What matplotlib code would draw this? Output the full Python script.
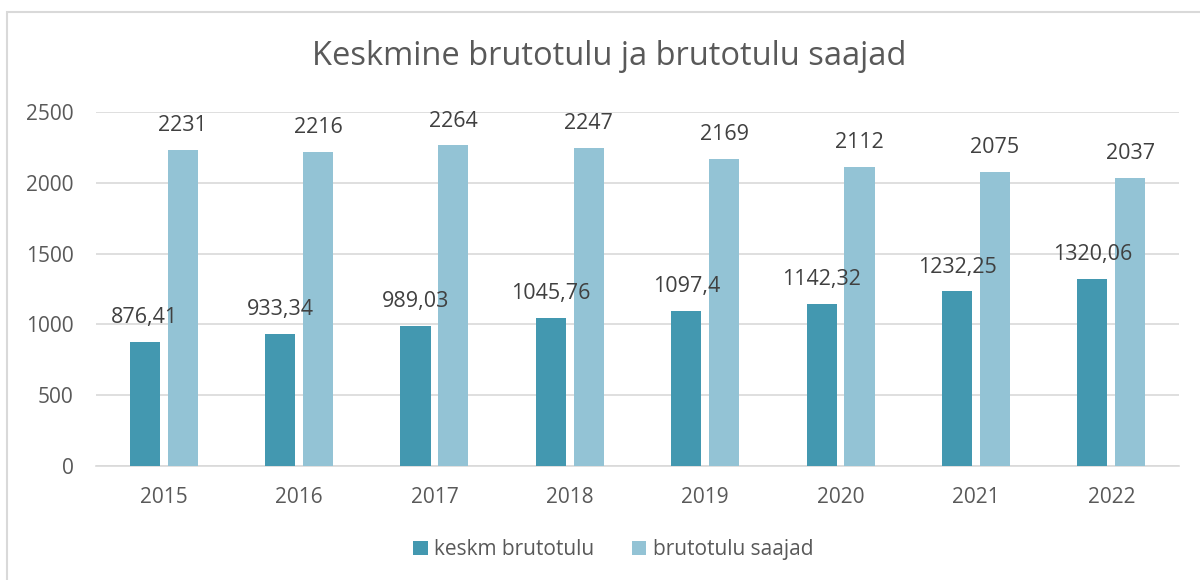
import matplotlib.pyplot as plt
import matplotlib.patches as mpatches
import numpy as np

years = ["2015", "2016", "2017", "2018", "2019", "2020", "2021", "2022"]
keskm_brutotulu = [876.41, 933.34, 989.03, 1045.76, 1097.4, 1142.32, 1232.25, 1320.06]
brutotulu_saajad = [2231, 2216, 2264, 2247, 2169, 2112, 2075, 2037]

dark = "#4398B0"
light = "#93C3D5"
grid_col = "#D9D9D9"
text_col = "#595959"
label_col = "#404040"

plt.rcParams["font.family"] = ["Open Sans", "DejaVu Sans"]

fig = plt.figure(figsize=(12, 5.8), dpi=100)
ax = fig.add_axes([0.08, 0.1966, 0.9025, 0.6103])

x = np.arange(len(years))
w = 0.222
off = 0.14
b1 = ax.bar(x - off, keskm_brutotulu, w, color=dark, label="keskm brutotulu", zorder=3)
b2 = ax.bar(x + off, brutotulu_saajad, w, color=light, label="brutotulu saajad", zorder=3)

def fmt(v):
    s = ("%.2f" % v).rstrip("0").rstrip(".")
    return s.replace(".", ",")

for bars, vals in ((b1, keskm_brutotulu), (b2, brutotulu_saajad)):
    for bar, v in zip(bars, vals):
        ax.annotate(fmt(v), (bar.get_x() + bar.get_width() / 2, bar.get_height()),
                    xytext=(0, 10), textcoords="offset points",
                    ha="center", va="bottom", fontsize=15.5, color=label_col)

ax.set_xlim(-0.5, len(years) - 0.5)
ax.set_ylim(0, 2500)
ax.set_yticks(range(0, 2501, 500))
ax.set_xticks(x)
ax.set_xticklabels(years)
ax.grid(axis="y", color=grid_col, linewidth=1.2, zorder=0)
for s in ["top", "right", "left"]:
    ax.spines[s].set_visible(False)
ax.spines["bottom"].set_color(grid_col)
ax.spines["bottom"].set_linewidth(1.2)
ax.tick_params(axis="both", length=0, labelsize=15, colors=text_col)
ax.tick_params(axis="x", pad=15)
ax.tick_params(axis="y", pad=16)

fig.text(0.5075, 0.902, "Keskmine brutotulu ja brutotulu saajad",
         ha="center", va="center", fontsize=23.5, color=text_col)

fig.legend(handles=[b1, b2], loc="center", bbox_to_anchor=(0.511, 0.052), ncol=2,
           frameon=False, fontsize=15, labelcolor=text_col,
           handlelength=0.7, handleheight=0.7, handletextpad=0.3, columnspacing=1.8)

border = mpatches.Rectangle((7 / 1200, -0.05), 1.1, 1 - 12 / 580 + 0.05,
                            transform=fig.transFigure, fill=False,
                            edgecolor=grid_col, linewidth=1.5)
fig.patches.append(border)

fig.savefig("out.png", dpi=100, facecolor="white")
